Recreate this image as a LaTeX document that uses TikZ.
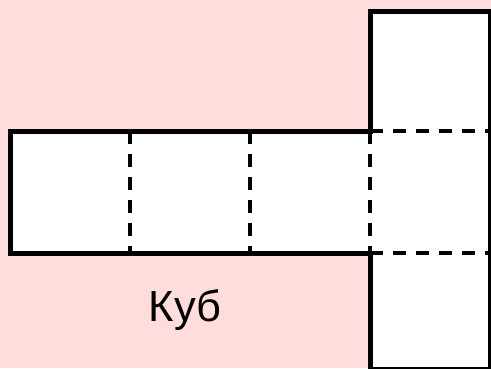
\documentclass[tikz,border=0pt]{standalone}
\usepackage{fontspec}
\setmainfont{Liberation Sans}
\usetikzlibrary{calc}
\usetikzlibrary{positioning}
\definecolor{netpink}{RGB}{255,221,221}
\tikzstyle{face} = [fill=white, minimum width=120pt, minimum height=122pt, inner sep=0pt, outer sep=0pt]
\tikzstyle{cut} = [line width=5pt, line join=miter]
\tikzstyle{fold} = [line width=3.5pt, dash pattern=on 13pt off 10pt]

\begin{document}
\begin{tikzpicture}[x=1pt,y=1pt]
\fill[netpink] (0,0) rectangle (491,-368);
\clip (0,0) rectangle (491,-368);
\node[face] (sq1) at (70,-192) {};
\node[face, right=0pt of sq1] (sq2) {};
\node[face, right=0pt of sq2] (sq3) {};
\node[face, right=0pt of sq3] (sq4) {};
\node[face, above=0pt of sq4, minimum height=120pt] (top) {};
\node[face, below=0pt of sq4, minimum height=116pt] (bot) {};
\node[anchor=base] (label) at (185,-321) {\fontsize{43.5}{50}\selectfont Куб};
% fold lines
\draw[fold] (sq1.north east) -- (sq1.south east);
\draw[fold] (sq2.north east) -- (sq2.south east);
\draw[fold] (sq3.north east) -- (sq3.south east);
\draw[fold] (top.south west) -- (top.south east);
\draw[fold] (bot.north west) -- (bot.north east);
% outline
\draw[cut] (sq1.north west) -- (top.south west) -- (top.north west) -- (top.north east)
  -- (bot.south east) -- (bot.south west) -- (bot.north west) -- (sq1.south west) -- cycle;
\end{tikzpicture}
\end{document}
